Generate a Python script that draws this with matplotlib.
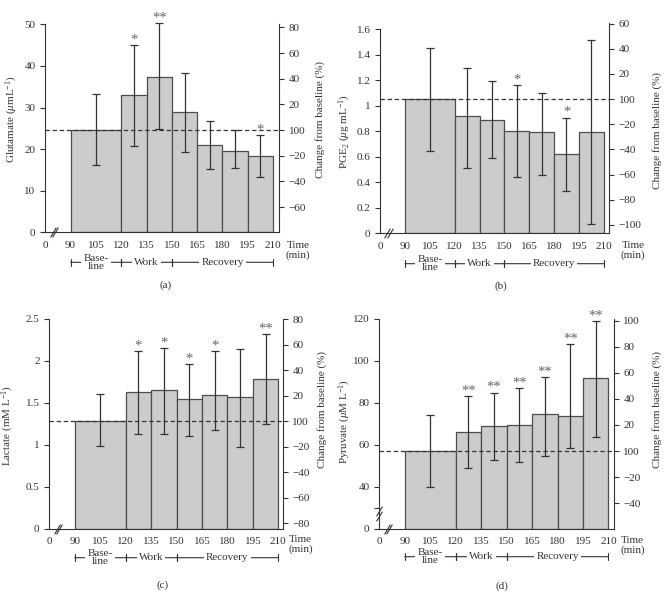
import numpy as np
import matplotlib
matplotlib.use('Agg')
import matplotlib.pyplot as plt
import matplotlib.transforms as mtransforms

plt.rcParams['font.family'] = ['Liberation Serif', 'DejaVu Serif']
plt.rcParams['mathtext.fontset'] = 'custom'
plt.rcParams['mathtext.rm'] = 'Liberation Serif'
plt.rcParams['mathtext.it'] = 'Liberation Serif:italic'
INK = '#333333'
for k in ['text.color', 'axes.labelcolor', 'xtick.color', 'ytick.color', 'axes.edgecolor']:
    plt.rcParams[k] = INK

# time bins (min): baseline 90-120, work 120-150, recovery 150-210
edges = [90, 120, 135, 150, 165, 180, 195, 210]
xticks = [0, 90, 105, 120, 135, 150, 165, 180, 195, 210]
phases = [('Base-\nline', 90, 120), ('Work', 120, 150), ('Recovery', 150, 210)]
right_label = 'Change from baseline (%)'

# (a) glutamate
glu_mean = [24.6, 32.9, 37.4, 28.9, 20.9, 19.6, 18.3]
glu_lo = [16.1, 20.8, 24.8, 19.4, 15.2, 15.4, 13.4]
glu_hi = [33.2, 45.0, 50.2, 38.4, 26.7, 24.5, 23.3]
glu_stars = ['', '*', '**', '', '', '', '*']
glu_yticks = [0, 10, 20, 30, 40, 50]
glu_rticks = [-60, -40, -20, 0, 20, 40, 60, 80]

# (b) PGE2
pge_mean = [1.05, 0.916, 0.885, 0.804, 0.791, 0.619, 0.796]
pge_lo = [0.647, 0.512, 0.587, 0.441, 0.459, 0.334, 0.07]
pge_hi = [1.454, 1.292, 1.19, 1.159, 1.10, 0.906, 1.511]
pge_stars = ['', '', '', '*', '', '*', '']
pge_yticks = [0, 0.2, 0.4, 0.6, 0.8, 1.0, 1.2, 1.4, 1.6]
pge_rticks = [-100, -80, -60, -40, -20, 0, 20, 40, 60]

# (c) lactate
lac_mean = [1.288, 1.626, 1.65, 1.55, 1.59, 1.567, 1.785]
lac_lo = [0.98, 1.125, 1.125, 1.10, 1.173, 0.974, 1.252]
lac_hi = [1.60, 2.119, 2.151, 1.96, 2.119, 2.139, 2.32]
lac_stars = ['', '*', '*', '*', '*', '', '**']
lac_yticks = [0, 0.5, 1.0, 1.5, 2.0, 2.5]
lac_rticks = [-80, -60, -40, -20, 0, 20, 40, 60, 80]

# (d) pyruvate
pyr_mean = [57.1, 66.1, 68.8, 69.3, 74.6, 73.7, 91.9]
pyr_lo = [39.7, 48.8, 52.6, 51.6, 54.7, 58.6, 63.9]
pyr_hi = [74.1, 83.1, 84.9, 87.0, 92.5, 107.9, 119.2]
pyr_stars = ['', '**', '**', '**', '**', '**', '**']
pyr_yticks = [0, 20, 40, 60, 80, 100, 120]
pyr_rticks = [-40, -20, 0, 20, 40, 60, 80, 100]

W, H = 669, 595
fig = plt.figure(figsize=(W / 100, H / 100), dpi=100)


# broken x axis: 0..90 squeezed into one 15-min step
def fwd_x(x):
    x = np.asarray(x, dtype=float)
    return np.where(x >= 90, x, 75 + x / 6)


def inv_x(p):
    p = np.asarray(p, dtype=float)
    return np.where(p >= 90, p, (p - 75) * 6)


# broken y axis for pyruvate: 0..40 squeezed
def fwd_y(v):
    v = np.asarray(v, dtype=float)
    return np.where(v >= 40, v, 20 + v / 2)


def inv_y(p):
    p = np.asarray(p, dtype=float)
    return np.where(p >= 40, p, (p - 20) * 2)


def fmt(t):
    if t == 0:
        return '100'
    return f'{t:g}'.replace('-', '\u2212')


SLASH = [(-0.6, -1), (0.6, 1)]


def panel(box, xr, mean, lo, hi, stars, ylabel, yticks, ytop, rlim, rticks,
          lab_l, lab_r, time_xy, line_y, cap_xy, cap, ybreak=False):
    L, R, B, T = box
    ax = fig.add_axes([L / W, 1 - B / H, (R - L) / W, (B - T) / H])
    ax.set_xscale('function', functions=(fwd_x, inv_x))
    if ybreak:
        ax.set_yscale('function', functions=(fwd_y, inv_y))
    ax.set_xlim(0, xr)
    ax.set_ylim(0, ytop)

    e = np.array(edges, dtype=float)
    widths = np.diff(e)
    centers = e[:-1] + widths / 2
    mean = np.array(mean)
    ax.bar(e[:-1], mean, width=widths, align='edge', color='#cccccc',
           edgecolor='#4d4d4d', linewidth=0.9, zorder=2)
    eb = ax.errorbar(centers, mean, yerr=[mean - np.array(lo), np.array(hi) - mean],
                     fmt='none', ecolor=INK, elinewidth=0.9, capsize=3, capthick=0.9, zorder=3)
    for art in eb.lines[1] + eb.lines[2]:
        art.set_clip_on(False)
    ax.axhline(mean[0], ls=(0, (3.5, 2.2)), color=INK, lw=0.9, zorder=4)
    for c, h, s in zip(centers, hi, stars):
        if s:
            ax.annotate(s, (c, h), xytext=(0, -1), textcoords='offset points',
                        ha='center', va='bottom', fontsize=10.5, color='#666666',
                        annotation_clip=False)

    ax.set_xticks(xticks)
    ax.set_xticklabels([str(t) for t in xticks])
    ax.set_yticks(yticks)
    ax.set_yticklabels([f'{t:g}' if not (ybreak and t == 20) else '' for t in yticks])
    ax.tick_params(axis='x', length=0, pad=6, labelsize=8)
    ax.tick_params(axis='y', direction='out', length=3.5, width=0.8, labelsize=8)
    for s in ['top', 'right']:
        ax.spines[s].set_visible(False)
    ax.spines['left'].set_bounds(0, yticks[-1])
    ax.spines['left'].set_linewidth(0.8)
    ax.spines['bottom'].set_linewidth(0.8)

    rx = ax.twinx()
    rx.set_ylim(*rlim)
    rx.set_yticks(rticks)
    rx.set_yticklabels([fmt(t) for t in rticks])
    rx.tick_params(axis='y', direction='out', length=3.5, width=0.8, labelsize=8)
    for s in ['top', 'left', 'bottom']:
        rx.spines[s].set_visible(False)
    rx.spines['right'].set_linewidth(0.8)

    ax.set_ylabel(ylabel, fontsize=8)
    ax.yaxis.set_label_coords((lab_l[0] + 5 - L) / (R - L), (B - lab_l[1]) / (B - T))
    rx.set_ylabel(right_label, fontsize=8)
    rx.yaxis.set_label_coords((lab_r[0] - 5 - L) / (R - L), (B - lab_r[1]) / (B - T))

    # axis breaks drawn as two short slashes
    tr = ax.get_xaxis_transform()
    ax.plot([26, 34], [0, 0], ls='none', marker=SLASH, ms=7, mew=0.8, color=INK,
            transform=tr, clip_on=False, zorder=5)
    if ybreak:
        ax.plot([0, 0], [12, 17], ls='none', marker=SLASH, ms=7, mew=0.8, color=INK,
                transform=ax.get_yaxis_transform(), clip_on=False, zorder=5)

    # phase brackets under the time axis
    bt = mtransforms.blended_transform_factory(ax.transData, fig.transFigure)
    yb = 1 - line_y / H
    for name, a, b in phases:
        ax.annotate('', xy=(a, yb), xytext=(b, yb), xycoords=bt, textcoords=bt,
                    arrowprops=dict(arrowstyle='|-|, widthA=0.25, widthB=0.25', lw=0.8,
                                    color=INK, shrinkA=0, shrinkB=0),
                    annotation_clip=False)
        ax.text((a + b) / 2, yb, name, transform=bt, ha='center', va='center',
                fontsize=8, linespacing=0.85, zorder=5,
                bbox=dict(fc='white', ec='none', pad=1.5))

    fig.text(time_xy[0] / W, 1 - time_xy[1] / H, 'Time\n(min)', ha='center',
             va='center', fontsize=8, linespacing=1.1)
    fig.text(cap_xy[0] / W, 1 - cap_xy[1] / H, cap, ha='center', va='center', fontsize=8)
    return ax


panel((45.3, 279, 232.3, 24.3), 213.5, glu_mean, glu_lo, glu_hi, glu_stars,
      r'Glutamate ($\mu$mL$^{-1}$)', glu_yticks, 50, (-79.7, 82.4), glu_rticks,
      (15, 119), (320, 119), (298, 250.7), 262.3, (165.7, 285), '(a)')
panel((380.3, 609, 233.3, 23.3), 213.2, pge_mean, pge_lo, pge_hi, pge_stars,
      r'PGE$_2$ ($\mu$g mL$^{-1}$)', pge_yticks, 1.645, (-106.7, 60.2), pge_rticks,
      (348.3, 131.7), (656.7, 130.8), (633, 250.8), 263.7, (500.7, 285.7), '(b)')
panel((49.3, 282.7, 528.7, 319), 212.6, lac_mean, lac_lo, lac_hi, lac_stars,
      r'Lactate (mM L$^{-1}$)', lac_yticks, 2.5, (-84.2, 80.2), lac_rticks,
      (11, 425), (321.7, 409.7), (300.8, 544.7), 557.7, (162.7, 585), '(c)')
panel((379.3, 613.7, 528.7, 319), 213.1, pyr_mean, pyr_lo, pyr_hi, pyr_stars,
      r'Pyruvate ($\mu$M L$^{-1}$)', pyr_yticks, 120, (-59.6, 101.3), pyr_rticks,
      (348.3, 421.3), (656.7, 410), (632.5, 545.3), 556.7, (501.7, 585.7), '(d)',
      ybreak=True)

fig.savefig('out.png', dpi=100)
